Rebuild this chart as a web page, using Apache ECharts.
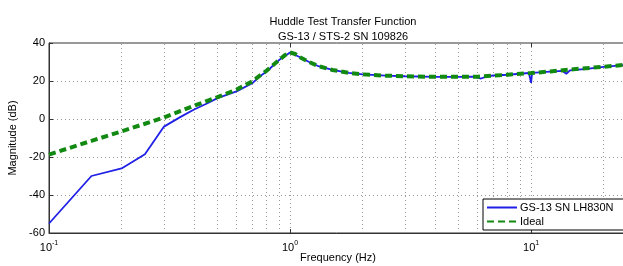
<!DOCTYPE html>
<html>
<head>
<meta charset="utf-8">
<script src="https://cdn.jsdelivr.net/npm/echarts@6.0.0/dist/echarts.min.js"></script>
<style>
  html, body { margin: 0; padding: 0; background: #fff; }
  #chart { width: 623px; height: 266px; }
</style>
</head>
<body>
<div id="chart"></div>
<script>
// Ideal transfer function
const freqIdeal = [0.1, 0.15, 0.2, 0.25, 0.3, 0.35, 0.4, 0.5, 0.6, 0.7, 0.8, 0.9, 0.95, 1.0, 1.05, 1.1, 1.2, 1.3, 1.5, 1.75, 2, 2.5, 3, 4, 5, 6, 7, 8, 10, 12, 15, 20, 25];
const magIdeal = [-18.7, -11.5, -6.5, -2.5, 0.8, 4.2, 7, 11.5, 15.5, 20, 25.5, 31, 33.5, 35, 34.2, 32.5, 30, 28, 25.8, 24.3, 23.5, 22.8, 22.5, 22.2, 22.2, 22.3, 22.8, 23.3, 24.2, 25, 26.2, 27.5, 28.6];

// Measured GS-13 response
const freqMeas = [0.1, 0.15, 0.2, 0.25, 0.3, 0.35, 0.4, 0.45, 0.5, 0.6, 0.7, 0.75, 0.8, 0.9, 1.0, 1.1, 1.2, 1.3, 1.5, 1.75, 2, 2.5, 3, 4, 5, 5.8, 6.2, 6.6, 7, 8, 9.8, 10, 10.1, 12, 13.5, 14, 14.5, 17, 20, 25];
const magMeas = [-55, -30, -26, -18.5, -4, 1, 5, 8, 11, 14.5, 19, 22.5, 25, 31, 35, 32.5, 30, 28, 25.8, 24.3, 23.5, 22.8, 22.5, 22.2, 22.2, 22.3, 21.3, 22.6, 22.9, 23.3, 24.2, 19, 24.3, 24.9, 25.3, 23.8, 25.6, 26.4, 27.4, 28.6];

// minor vertical grid lines (log decades)
const minorGrid = [0.2, 0.3, 0.4, 0.5, 0.6, 0.7, 0.8, 0.9, 2, 3, 4, 5, 6, 7, 8, 9, 20];

const yTicks = { min: -60, max: 40, step: 20 };

const chart = echarts.init(document.getElementById('chart'));

const gridDotted = { show: true, lineStyle: { color: '#9a9a9a', type: [1, 3], width: 1 } };
const font = 'Arial, "Liberation Sans", sans-serif';

function expLabel(v) {
  const e = Math.log10(v);
  if (Math.abs(e - Math.round(e)) > 1e-6) return '';
  return '{b|10}{s|' + Math.round(e) + '}';
}

const option = {
  animation: false,
  backgroundColor: '#fff',
  title: {
    text: 'Huddle Test Transfer Function\nGS-13 / STS-2 SN 109826',
    left: 338,
    textAlign: 'center',
    top: 9,
    textStyle: { fontFamily: font, fontSize: 11, fontWeight: 'normal', color: '#000', lineHeight: 15 }
  },
  grid: {
    left: 49, right: -4, top: 43, bottom: 33,
    outerBoundsMode: 'none',
    containLabel: false,
    show: true, borderColor: '#333', borderWidth: 1
  },
  legend: {
    left: 483, top: 199,
    orient: 'vertical',
    backgroundColor: '#fff',
    borderColor: '#000',
    borderWidth: 1,
    borderRadius: 0,
    padding: [3, 10, 3, 3],
    itemGap: 3,
    itemWidth: 30,
    itemHeight: 10,
    itemStyle: { opacity: 0 },
    textStyle: { fontFamily: font, fontSize: 11, color: '#000', padding: [0, 0, 0, -2] },
    data: ['GS-13 SN LH830N', 'Ideal']
  },
  xAxis: [{
    type: 'log',
    logBase: 10,
    min: 0.1,
    max: 25,
    name: 'Frequency (Hz)',
    nameLocation: 'middle',
    nameGap: 19,
    nameMoveOverlap: false,
    nameTextStyle: { fontFamily: font, fontSize: 11, color: '#000' },
    axisLine: { show: true, onZero: false, lineStyle: { color: '#333' } },
    axisTick: { show: true, inside: true, length: 4, lineStyle: { color: '#333' } },
    axisLabel: {
      formatter: expLabel,
      margin: 7,
      showMaxLabel: false,
      rich: {
        b: { fontFamily: font, fontSize: 11, color: '#000' },
        s: { fontFamily: font, fontSize: 7, color: '#000', padding: [0, 0, 8, 0] }
      }
    },
    splitLine: gridDotted
  }, {
    type: 'log',
    logBase: 10,
    min: 0.1,
    max: 25,
    position: 'top',
    axisLine: { show: false, onZero: false },
    axisTick: { show: true, inside: true, length: 4, lineStyle: { color: '#333' } },
    axisLabel: { show: false },
    splitLine: { show: false }
  }],
  yAxis: {
    type: 'value',
    min: yTicks.min,
    max: yTicks.max,
    interval: yTicks.step,
    name: 'Magnitude (dB)',
    nameLocation: 'middle',
    nameGap: 31,
    nameMoveOverlap: false,
    nameTextStyle: { fontFamily: font, fontSize: 11, color: '#000' },
    axisLine: { show: true, onZero: false, lineStyle: { color: '#333' } },
    axisTick: { show: true, inside: true, length: 4, lineStyle: { color: '#333' } },
    axisLabel: { fontFamily: font, fontSize: 11, color: '#000', margin: 4 },
    splitLine: gridDotted
  },
  series: [
    {
      name: 'GS-13 SN LH830N',
      type: 'line',
      showSymbol: false,
      symbol: 'none',
      data: freqMeas.map((f, i) => [f, magMeas[i]]),
      lineStyle: { color: '#1f1fe6', width: 1.8 },
      itemStyle: { color: '#1f1fe6' },
      z: 3,
      markLine: {
        silent: true,
        symbol: 'none',
        label: { show: false },
        lineStyle: { color: '#9a9a9a', type: [1, 3], width: 1 },
        data: minorGrid.map(v => ({ xAxis: v })),
        z: 1
      }
    },
    {
      name: 'Ideal',
      type: 'line',
      showSymbol: false,
      symbol: 'none',
      data: freqIdeal.map((f, i) => [f, magIdeal[i]]),
      lineStyle: { color: '#128a12', width: 4, type: [7, 4] },
      itemStyle: { color: '#128a12' },
      z: 4
    }
  ]
};

chart.setOption(option);
</script>
</body>
</html>
